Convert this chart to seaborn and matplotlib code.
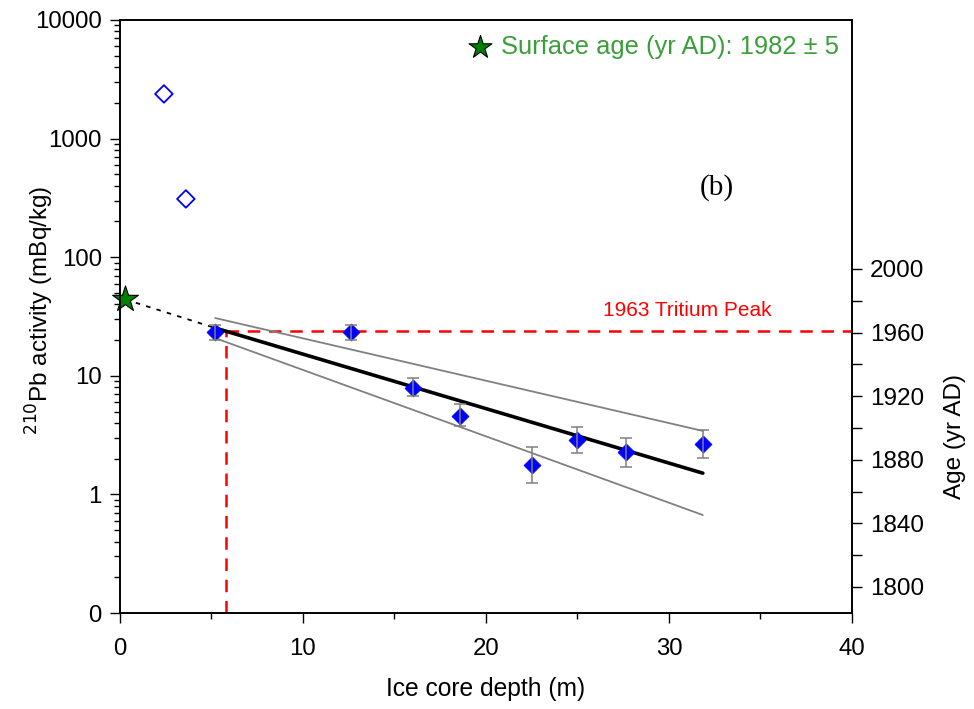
import numpy as np
import pandas as pd
import seaborn as sns
import matplotlib.pyplot as plt
from matplotlib.ticker import FixedLocator, FixedFormatter, NullFormatter

sns.set_theme(style="ticks")
plt.rcParams['font.family'] = ['Liberation Sans', 'DejaVu Sans']
plt.rcParams['text.color'] = 'black'
plt.rcParams['axes.labelcolor'] = 'black'

# 210Pb samples below the firn (filled diamonds)
depth = [5.2, 12.6, 16.0, 18.6, 22.5, 25.0, 27.65, 31.85]
activity = [23.4, 23.4, 7.9, 4.6, 1.77, 2.87, 2.28, 2.66]
err_hi = [27.0, 27.0, 9.6, 5.8, 2.51, 3.7, 2.99, 3.49]
err_lo = [20.0, 20.0, 6.7, 3.8, 1.25, 2.23, 1.70, 2.03]

# surface samples (open diamonds)
surf_depth = [2.4, 3.6]
surf_activity = [2380, 310]

# exponential fit and its bounds
fit_depth = [5.2, 31.85]
fit_mid = [25.3, 1.51]
fit_upper = [30.7, 3.43]
fit_lower = [20.8, 0.67]

# extrapolation to the surface
star_depth = [0.3]
star_activity = [44.0]
extra_depth = [0.3, 5.2]
extra_activity = [44.0, 25.3]

# 1963 tritium peak
tritium_depth = 5.8
tritium_activity = 23.9

age_ticks = [1800, 1840, 1880, 1920, 1960, 2000]
age_minor = [1820, 1860, 1900, 1940, 1980]

fig = plt.figure(figsize=(9.74, 7.09), dpi=100)
ax = fig.add_axes([0.1232, 0.1354, 0.7515, 0.8364])

# tritium marker lines
ax.plot([tritium_depth, 40], [tritium_activity, tritium_activity], color='#ff0000',
        lw=1.8, dashes=(5, 3.5), zorder=2)
ax.plot([tritium_depth, tritium_depth], [0.1, tritium_activity], color='#ff0000',
        lw=1.8, dashes=(5, 3.5), zorder=2)

# fit lines
fit_df = pd.DataFrame({'depth': fit_depth, 'mid': fit_mid, 'upper': fit_upper, 'lower': fit_lower})
sns.lineplot(data=fit_df, x='depth', y='upper', color='#808080', lw=1.3, ax=ax, zorder=3)
sns.lineplot(data=fit_df, x='depth', y='lower', color='#808080', lw=1.3, ax=ax, zorder=3)
sns.lineplot(data=fit_df, x='depth', y='mid', color='black', lw=2.6, ax=ax, zorder=4)
ax.plot(extra_depth, extra_activity, color='black', lw=1.3, dashes=(2.5, 3.5), zorder=4)

# data points
df = pd.DataFrame({'depth': depth, 'activity': activity})
sns.scatterplot(data=df, x='depth', y='activity', marker='D', s=75, color='#0000ff',
                edgecolor='#0000ff', linewidth=0.5, ax=ax, zorder=5)
yerr = [np.array(activity) - np.array(err_lo), np.array(err_hi) - np.array(activity)]
ax.errorbar(depth, activity, yerr=yerr, fmt='none', ecolor='#808080', elinewidth=1.1,
            capsize=4, capthick=1.1, zorder=6)

sdf = pd.DataFrame({'depth': surf_depth, 'activity': surf_activity})
sns.scatterplot(data=sdf, x='depth', y='activity', marker='D', s=80, facecolor='none',
                edgecolor='#0000ff', linewidth=1.3, ax=ax, zorder=5)

sns.scatterplot(x=star_depth, y=star_activity, marker='*', s=380, color='#008000',
                edgecolor='black', linewidth=0.8, ax=ax, zorder=7, clip_on=False)

# annotations
ax.scatter([19.7], [5900], marker='*', s=300, color='#008000', edgecolor='black',
           linewidth=0.8, zorder=7)
ax.text(20.8, 5900, 'Surface age (yr AD): 1982 \u00b1 5', color='#3a9e3a', fontsize=18.4,
        va='center', ha='left')
ax.text(31.0, 35.5, '1963 Tritium Peak', color='#ff0000', fontsize=15,
        va='center', ha='center')
ax.text(32.6, 390, '(b)', family=['Liberation Serif', 'DejaVu Serif'], fontsize=21,
        va='center', ha='center')

ax.set_yscale('log')
ax.set_xlim(0, 40)
ax.set_ylim(0.1, 10000)
ax.xaxis.set_major_locator(FixedLocator([0, 10, 20, 30, 40]))
ax.xaxis.set_minor_locator(FixedLocator([5, 15, 25, 35]))
ax.yaxis.set_major_locator(FixedLocator([0.1, 1, 10, 100, 1000, 10000]))
ax.yaxis.set_major_formatter(FixedFormatter(['0', '1', '10', '100', '1000', '10000']))
ax.yaxis.set_minor_locator(FixedLocator([m * 10.0 ** e for e in range(-1, 4) for m in range(2, 10)]))
ax.yaxis.set_minor_formatter(NullFormatter())
ax.tick_params(axis='both', which='major', direction='out', length=7, width=1,
               labelsize=17.3, color='black', labelcolor='black', left=True, bottom=True)
ax.tick_params(axis='both', which='minor', direction='out', length=4, width=1,
               color='black', left=True, bottom=True)
ax.tick_params(axis='y', which='major', pad=6)
ax.tick_params(axis='x', which='major', pad=11)
ax.set_xlabel('Ice core depth (m)', fontsize=17.7, labelpad=12)
ax.set_ylabel('$^{210}$Pb activity (mBq/kg)', fontsize=17.5)
ax.yaxis.set_label_coords(-0.088, 0.51)
for sp in ax.spines.values():
    sp.set_color('black')
    sp.set_linewidth(1.2)

# right axis for age
ax2 = ax.twinx()
ax2.set_ylim(1783.6, 2156.6)
ax2.yaxis.set_major_locator(FixedLocator(age_ticks))
ax2.yaxis.set_minor_locator(FixedLocator(age_minor))
ax2.tick_params(axis='y', which='major', direction='out', length=7, width=1,
                labelsize=17.5, color='black', labelcolor='black', right=True, pad=6)
ax2.tick_params(axis='y', which='minor', direction='out', length=7, width=1,
                color='black', right=True)
ax2.set_ylabel('Age (yr AD)', fontsize=17.5)
ax2.yaxis.set_label_coords(1.126, 0.297)
ax2.grid(False)
ax.grid(False)
for sp in ax2.spines.values():
    sp.set_color('black')
    sp.set_linewidth(1.2)

fig.savefig('out.png', dpi=100)
